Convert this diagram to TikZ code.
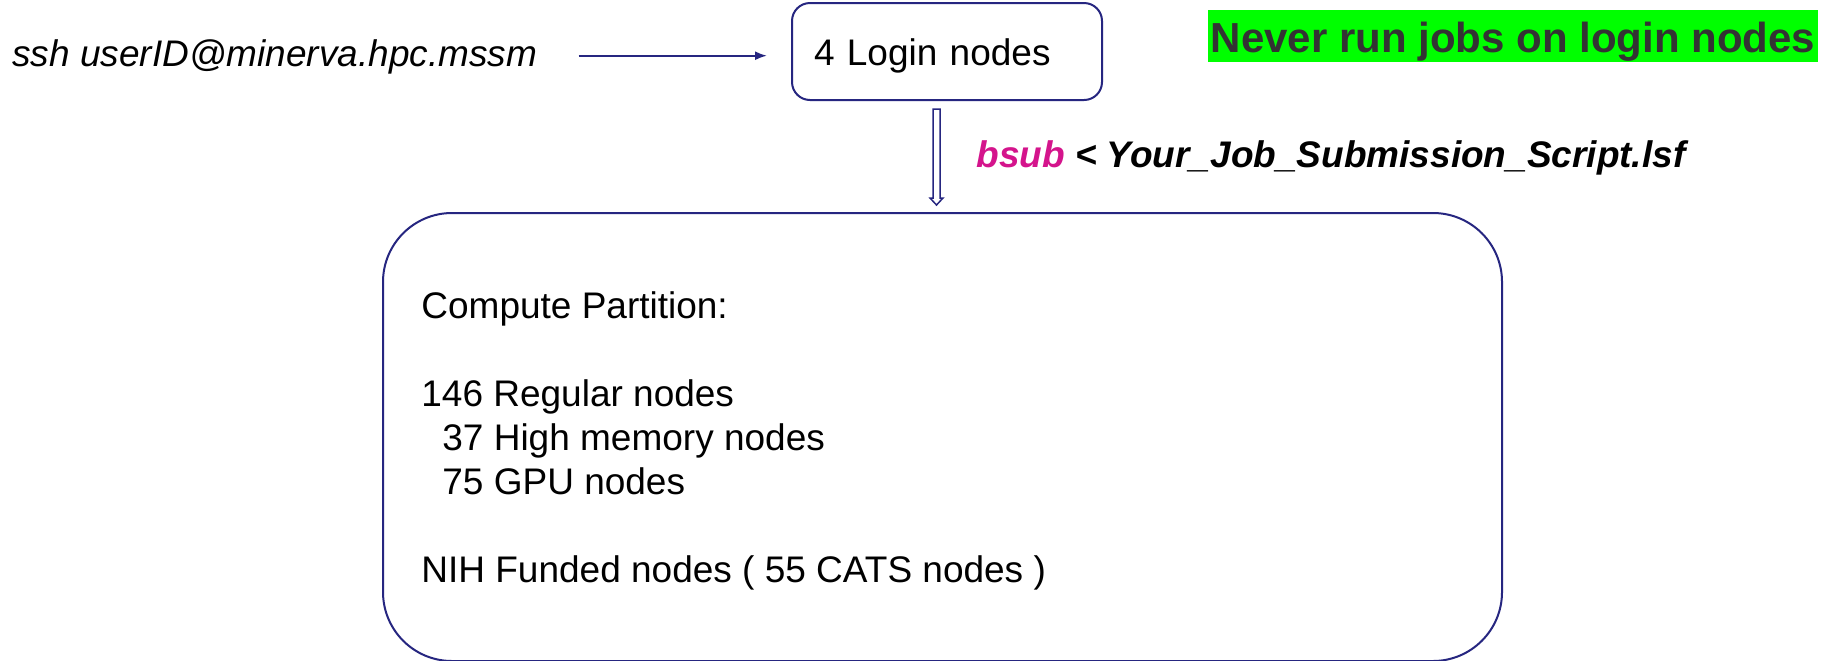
\documentclass[tikz,border=0pt]{standalone}
\usepackage{fontspec}
\setmainfont{Liberation Sans}
\usetikzlibrary{calc,arrows.meta}
\definecolor{navy}{HTML}{262680}
\definecolor{lime}{HTML}{00FF00}
\definecolor{warngray}{HTML}{333333}
\definecolor{bsubpink}{HTML}{D4148C}
\begin{document}
\begin{tikzpicture}[x=0.5pt,y=-0.5pt,
  txt/.style={font=\fontsize{18.5}{22}\selectfont, inner sep=0pt, anchor=base west},
  itxt/.style={txt, font=\fontsize{18.5}{22}\selectfont\itshape},
  bitxt/.style={txt, font=\fontsize{18.5}{22}\selectfont\bfseries\itshape},
  roundbox/.style={draw=navy, line width=1pt, fill=white},
  arr/.style={draw=navy, line width=1pt, -{Latex[length=6pt,width=4.5pt]}},
  hollowarr/.style={draw=navy, line width=0.75pt, line join=miter}
]
\useasboundingbox (0,0) rectangle (1839,660);
\fill[white] (0,0) rectangle (1839,660);
\clip (0,0) rectangle (1839,660);

% top row
\node[itxt] (ssh) at (12,66) {ssh userID@minerva.hpc.mssm};
\node[roundbox, rounded corners=9pt, font=\fontsize{18.5}{22}\selectfont,
      minimum width=155pt, minimum height=48.5pt, text width=133pt, align=left,
      inner xsep=11pt, inner ysep=0pt, text height=17.5pt, text depth=4pt]
      (login) at (947,51.5) {4 Login nodes};
\node[fill=lime, text=warngray, font=\fontsize{21}{25}\selectfont\bfseries,
      minimum width=305pt, minimum height=26pt, inner sep=0pt,
      text height=20.5pt, text depth=4.5pt] (warn) at (1513,36) {Never run jobs on login nodes};

% ssh arrow
\coordinate (sshA) at ($(ssh.base east)+(41,-10.3)$);
\coordinate (sshB) at ($(login.west |- sshA)+(-24,0)$);
\draw[arr] (sshA) -- (sshB);

% compute partition box
\node[roundbox, rounded corners=34.5pt, minimum width=559.5pt, minimum height=224pt]
      (compute) at (942.5,437) {};

% hollow block arrow from login to compute
\coordinate (dtop) at ($(login.south)+(-10.5,8)$);
\coordinate (dtip) at ($(compute.north -| dtop)+(0,-7)$);
\draw[hollowarr] ($(dtop)+(-3.5,0)$) -- ($(dtop)+(3.5,0)$) -- ($(dtip)+(3.5,-7)$)
   -- ($(dtip)+(6.5,-7)$) -- (dtip) -- ($(dtip)+(-6.5,-7)$) -- ($(dtip)+(-3.5,-7)$) -- cycle;

\node[bitxt] (cmd) at (976,167) {\textcolor{bsubpink}{bsub} < Your\_Job\_Submission\_Script.lsf};

% compute box text
\node[txt] (cp)  at (421,318) {Compute Partition:};
\node[txt] (reg) at (421,406) {146 Regular nodes};
\node[txt] (him) at (442,450) {37 High memory nodes};
\node[txt] (gpu) at (442,494) {75 GPU nodes};
\node[txt] (nih) at (421,582) {NIH Funded nodes ( 55 CATS nodes )};
\end{tikzpicture}
\end{document}
